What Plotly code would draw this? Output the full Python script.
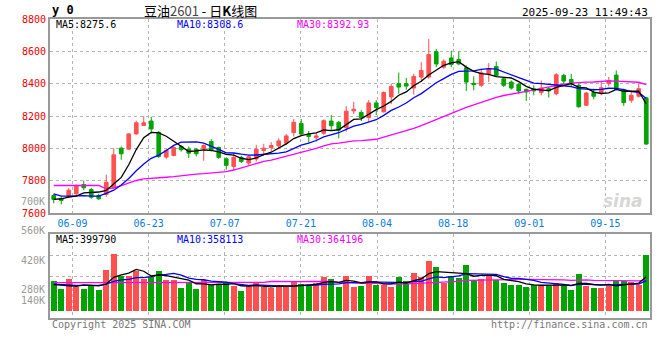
import plotly.graph_objects as go

# ---------------- data ----------------
dates = (
    ["2025-06-%s" % d for d in ["04", "05", "06", "09", "10", "11", "12", "13", "16", "17", "18", "19", "20",
                                "23", "24", "25", "26", "27", "30"]]
    + ["2025-07-%s" % d for d in ["01", "02", "03", "04", "07", "08", "09", "10", "11", "14", "15", "16", "17",
                                  "18", "21", "22", "23", "24", "25", "28", "29", "30", "31"]]
    + ["2025-08-%s" % d for d in ["01", "04", "05", "06", "07", "08", "11", "12", "13", "14", "15", "18", "19",
                                  "20", "21", "22", "25", "26", "27", "28", "29"]]
    + ["2025-09-%s" % d for d in ["01", "02", "03", "04", "05", "08", "09", "10", "11", "12", "15", "16", "17",
                                  "18", "19", "22", "23"]]
)

opens = [7708, 7690, 7700, 7719, 7776, 7745, 7708, 7715, 7756, 8001,
         7995, 8089, 8142, 8169, 8099, 7946, 7956, 8011, 7995, 7995,
         7997, 8042, 8005, 7935, 7888, 7944, 7909, 7934, 7987, 8005,
         8015, 8032, 8097, 8154, 8087, 8066, 8093, 8169, 8161, 8128,
         8232, 8222, 8191, 8281, 8226, 8318, 8400, 8400, 8373, 8441,
         8441, 8598, 8502, 8559, 8549, 8498, 8402, 8390, 8461, 8506,
         8430, 8410, 8396, 8365, 8369, 8345, 8369, 8338, 8451, 8426,
         8390, 8267, 8345, 8345, 8400, 8453, 8363, 8297, 8322, 8312]
highs = [7719, 7704, 7755, 7776, 7800, 7755, 7719, 7837, 8001, 8011,
         8093, 8171, 8199, 8195, 8107, 7995, 8015, 8021, 8011, 8001,
         8025, 8056, 8011, 7944, 7970, 7954, 7960, 8022, 8028, 8038,
         8062, 8089, 8181, 8181, 8107, 8097, 8179, 8206, 8169, 8261,
         8287, 8236, 8298, 8298, 8353, 8400, 8469, 8435, 8461, 8533,
         8676, 8615, 8549, 8604, 8600, 8512, 8445, 8492, 8527, 8537,
         8441, 8420, 8404, 8369, 8390, 8420, 8379, 8465, 8461, 8461,
         8400, 8349, 8369, 8410, 8441, 8482, 8369, 8359, 8400, 8318]
lows = [7660, 7653, 7692, 7704, 7741, 7688, 7680, 7700, 7750, 7929,
        7991, 8085, 8138, 8093, 7940, 7933, 7950, 7980, 7940, 7950,
        7923, 7980, 7935, 7868, 7864, 7909, 7893, 7919, 7954, 7981,
        8001, 8022, 8073, 8077, 8036, 8042, 8083, 8113, 8062, 8103,
        8212, 8169, 8165, 8206, 8220, 8273, 8338, 8363, 8332, 8410,
        8430, 8502, 8492, 8502, 8516, 8355, 8359, 8379, 8410, 8441,
        8379, 8363, 8334, 8293, 8328, 8328, 8314, 8328, 8390, 8379,
        8252, 8261, 8302, 8328, 8383, 8359, 8263, 8281, 8314, 8021]
closes = [7684, 7678, 7741, 7766, 7756, 7698, 7688, 7790, 7960, 7966,
          8089, 8158, 8158, 8120, 7950, 7987, 8005, 7991, 7970, 7966,
          8017, 7991, 7944, 7895, 7944, 7919, 7948, 7995, 8001, 8017,
          8046, 8077, 8161, 8089, 8073, 8077, 8171, 8140, 8113, 8230,
          8242, 8189, 8281, 8253, 8345, 8383, 8379, 8385, 8445, 8482,
          8580, 8522, 8539, 8518, 8522, 8410, 8394, 8467, 8494, 8451,
          8390, 8373, 8355, 8349, 8355, 8373, 8355, 8455, 8416, 8400,
          8257, 8342, 8322, 8375, 8420, 8365, 8283, 8328, 8369, 8027]
volumes = [355500, 256800, 375300, 280500, 256800, 308100, 248900, 485900, 675500, 406900,
           414800, 466100, 375300, 395000, 474000, 367400, 367400, 268600, 335800, 256800,
           359500, 308100, 308100, 327900, 296300, 237000, 292300, 339700, 276500, 268600,
           296300, 276500, 339700, 316000, 296300, 327900, 399000, 379200, 280500, 414800,
           280500, 296300, 414800, 300200, 300200, 280500, 399000, 355500, 446400, 399000,
           592500, 517500, 327900, 414800, 387100, 545100, 367400, 379200, 414800, 367400,
           327900, 308100, 308100, 284400, 300200, 308100, 296300, 327900, 300200, 248900,
           438500, 296300, 268600, 268600, 288400, 347600, 355500, 335800, 308100, 663600]

# moving-average values before enough history is on screen
price_ma5_head = [7684, 7688, 7698, 7704]
price_ma10_head = [7719, 7704, 7704, 7708, 7708, 7704, 7704, 7721, 7741]
price_ma30_head = [7770, 7770, 7770, 7770, 7770, 7770, 7770, 7749, 7755, 7770,
                   7786, 7801, 7811, 7813, 7817, 7821, 7825, 7831, 7835, 7840,
                   7843, 7848, 7852, 7856, 7866, 7880, 7895, 7909, 7919]
vol_ma5_head = [308100, 300200, 296300, 288400]
vol_ma10_head = [316000, 308100, 304200, 300200, 300200, 300200, 300200, 316000, 347600]
vol_ma30_head = [331800] * 10 + [335800] * 19

tick_idx = [3, 13, 23, 33, 43, 53, 63, 73]
tick_labels = [dates[i][5:] for i in tick_idx]

legend_price = ["MA5:8275.6", "MA10:8308.6", "MA30:8392.93"]
legend_vol = ["MA5:399790", "MA10:358113", "MA30:364196"]
vol_labels = ["560K", "420K", "280K", "140K"]

# ---------------- helpers ----------------
def sma(vals, n, head):
    out = list(head)
    for i in range(len(head), len(vals)):
        w = vals[i - n + 1:i + 1]
        out.append(sum(w) / n)
    return out

RED = "#ff5050"
GREEN = "#00a400"
BLACK = "#000000"
BLUE = "#0000ff"
MAG = "#ff00ff"
GRID = "#b4b4b4"
BORDER = "#999999"
MONO = "DejaVu Sans Mono"

xs = list(range(len(dates)))
up = [c >= o for o, c in zip(opens, closes)]
vcolors = [RED if u else GREEN for u in up]

p5 = sma(closes, 5, price_ma5_head)
p10 = sma(closes, 10, price_ma10_head)
p30 = sma(closes, 30, price_ma30_head)
v5 = sma(volumes, 5, vol_ma5_head)
v10 = sma(volumes, 10, vol_ma10_head)
v30 = sma(volumes, 30, vol_ma30_head)

fig = go.Figure()
fig.add_trace(go.Candlestick(
    x=xs, open=opens, high=highs, low=lows, close=closes,
    increasing=dict(line=dict(color=RED, width=1), fillcolor=RED),
    decreasing=dict(line=dict(color=GREEN, width=1), fillcolor=GREEN),
    whiskerwidth=0, xaxis="x", yaxis="y", hoverinfo="skip"))
for ys, col in [(p30, MAG), (p10, BLUE), (p5, BLACK)]:
    fig.add_trace(go.Scatter(x=xs, y=ys, mode="lines", line=dict(color=col, width=1.3),
                             xaxis="x", yaxis="y", hoverinfo="skip"))
fig.add_trace(go.Bar(x=xs, y=volumes, marker=dict(color=vcolors, line=dict(width=0)),
                     width=0.8, xaxis="x2", yaxis="y2", hoverinfo="skip"))
for ys, col in [(v30, MAG), (v10, BLUE), (v5, BLACK)]:
    fig.add_trace(go.Scatter(x=xs, y=ys, mode="lines", line=dict(color=col, width=1.3),
                             xaxis="x2", yaxis="y2", hoverinfo="skip"))

W, H = 660, 360
L, R, T, B = 50, 10, 19, 42
ph = H - T - B
def py(pix):  # pixel row -> paper y
    return (H - B - pix) / ph
def px(pix):
    return (pix - L) / (W - L - R)

tick_step = 10.15
tickvals = [2.5 + tick_step * k for k in range(len(tick_idx))]
vol_range = [-86500, 909000]
vol_grid = [vol_range[0] + (vol_range[1] - vol_range[0]) * q for q in (0.25, 0.5, 0.75)]

axis_common = dict(showline=True, linecolor=BORDER, linewidth=2, mirror=True, zeroline=False,
                   showgrid=True, gridcolor=GRID, griddash="dot", gridwidth=1, ticks="",
                   automargin=False)

fig.update_layout(
    width=W, height=H, margin=dict(l=L, r=R, t=T, b=B, autoexpand=False),
    paper_bgcolor="white", plot_bgcolor="white", showlegend=False,
    font=dict(family=MONO, size=10, color="#000"),
    xaxis=dict(domain=[0, 1], anchor="y", range=[-0.5, 79.5], tickmode="array",
               tickvals=tickvals, ticktext=tick_labels, tickfont=dict(color="#0a7ddc", size=10, family=MONO),
               rangeslider=dict(visible=False), **axis_common),
    yaxis=dict(domain=[py(213), 1], anchor="x", range=[7600, 8800], tickmode="array",
               tickvals=[7600, 7800, 8000, 8200, 8400, 8600, 8800],
               tickfont=dict(color="#ee0000", size=10, family=MONO), **axis_common),
    xaxis2=dict(domain=[0, 1], anchor="y2", range=[-0.5, 79.5], tickmode="array",
                tickvals=tickvals, showticklabels=False, **axis_common),
    yaxis2=dict(domain=[0, py(234)], anchor="x2", range=vol_range, tickmode="array",
                tickvals=vol_grid, showticklabels=False, **axis_common),
    bargap=0,
)

ann = []
def text(x, y, s, color="#000", size=10, anchor="left", family=MONO, **kw):
    ann.append(dict(x=x, y=y, xref="paper", yref="paper", text=s, showarrow=False,
                    xanchor=anchor, yanchor="middle", font=dict(color=color, size=size, family=family), **kw))

text(px(50), py(10), "<b>y 0</b>", size=12)
text(px(200), py(10), "豆油<span style='color:#444'>2601</span> - 日<b>K</b>线图", size=13,
     anchor="center", family="Noto Sans CJK SC")
text(px(650), py(12), "2025-09-23 11:49:43", size=11, anchor="right")
for s, xp, col in zip(legend_price, [54, 175, 295], [BLACK, BLUE, MAG]):
    text(px(xp), py(24.5), s, color=col)
for s, xp, col in zip(legend_vol, [54, 175, 295], [BLACK, BLUE, MAG]):
    text(px(xp), py(239), s, color=col)
for s, yp in zip(vol_labels, [230.7, 260.3, 289.7, 300.7]):
    text(px(47), py(yp), s, color="#999999", anchor="right")
text(px(47), py(201), "700K", color="#999999", anchor="right")
text(px(50), py(324), "Copyright 2025 SINA.COM", color="#777777")
text(px(650), py(324), "http://finance.sina.com.cn", color="#777777", anchor="right")
text(px(623), py(201), "<b><i>sina</i></b>", color="#d6d6d6", size=17, anchor="center",
     family="DejaVu Sans")
fig.update_layout(annotations=ann)

fig.write_html("out.html", config={"displayModeBar": False},
               post_script="document.body.style.margin='0';")
